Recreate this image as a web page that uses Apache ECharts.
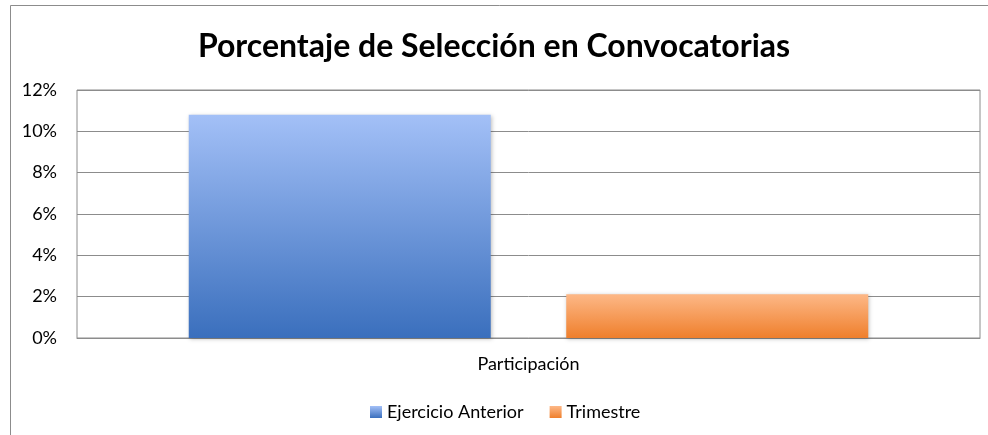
<!DOCTYPE html>
<html><head><meta charset="utf-8">
<script src="https://cdn.jsdelivr.net/npm/echarts@6/dist/echarts.min.js"></script>
<style>html,body{margin:0;padding:0;background:#fff}#c{width:988px;height:435px}</style>
</head><body><div id="c"></div>
<script>
const title = 'Porcentaje de Selección en Convocatorias';
const categories = ['Participación'];
const seriesNames = ['Ejercicio Anterior', 'Trimestre'];
const ejercicioAnterior = [10.8];
const trimestre = [2.12];
const yTicks = [0, 2, 4, 6, 8, 10, 12];

const font = 'Lato, "Open Sans", sans-serif';
const chart = echarts.init(document.getElementById('c'));
const grad = (top, bottom) => new echarts.graphic.LinearGradient(0, 0, 0, 1, [
  {offset: 0, color: top}, {offset: 1, color: bottom}]);
chart.setOption({
  animation: false,
  title: {text: title, left: 'center', top: 26,
    textStyle: {fontFamily: font, fontWeight: 'bold', fontSize: 32, color: '#000'}},
  graphic: [{type: 'rect', shape: {x: 10.5, y: 5.5, width: 990, height: 440},
    style: {fill: 'none', stroke: '#8c8c8c', lineWidth: 1}, silent: true}],
  grid: {left: 77, right: 8, top: 90, bottom: 97, show: true, borderColor: '#8c8c8c', borderWidth: 1},
  legend: {data: seriesNames, top: 398, left: 365, itemWidth: 12, itemHeight: 12, itemGap: 26,
    icon: 'rect', textStyle: {fontFamily: font, fontSize: 18, color: '#000'}},
  xAxis: {type: 'category', data: categories,
    axisLine: {lineStyle: {color: '#8c8c8c'}}, axisTick: {show: false},
    axisLabel: {fontFamily: font, fontSize: 18, color: '#000', margin: 17}},
  yAxis: {type: 'value', min: yTicks[0], max: yTicks[yTicks.length - 1], interval: 2,
    axisLine: {show: false}, axisTick: {show: false},
    splitLine: {lineStyle: {color: '#8c8c8c'}},
    axisLabel: {fontFamily: font, fontSize: 18, color: '#000', margin: 20, formatter: v => v + '%'}},
  series: [
    {name: seriesNames[0], type: 'bar', data: ejercicioAnterior, barWidth: 302, barGap: '25%',
      itemStyle: {color: grad('#a3c0f7', '#3a6fbd'), shadowColor: 'rgba(0,0,0,0.25)', shadowBlur: 4, shadowOffsetX: 1, shadowOffsetY: 1}},
    {name: seriesNames[1], type: 'bar', data: trimestre, barWidth: 302,
      itemStyle: {color: grad('#fdb887', '#ef7f2c'), shadowColor: 'rgba(0,0,0,0.25)', shadowBlur: 4, shadowOffsetX: 1, shadowOffsetY: 1}}
  ]
});
</script></body></html>
